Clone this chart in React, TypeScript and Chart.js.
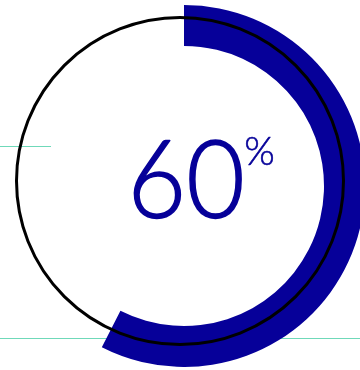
import React, { useEffect, useRef } from "react";
import { Chart, registerables } from "chart.js";

Chart.register(...registerables);

// ---- data ----
const segmentLabels = ["Completed", "Remaining"];
const segmentValues = [60, 40];
const centerValueText = "60";
const unitText = "%";

// ---- styles ----
const BLUE = "#060099";
const TEAL = "#6fd9b9";

function fitText(
  ctx: CanvasRenderingContext2D,
  text: string,
  font: string,
  left: number,
  top: number,
  right: number,
  bottom: number,
  extra: number
) {
  ctx.save();
  ctx.font = font;
  ctx.textAlign = "left";
  ctx.textBaseline = "alphabetic";
  const m = ctx.measureText(text);
  const w = m.actualBoundingBoxLeft + m.actualBoundingBoxRight;
  const h = m.actualBoundingBoxAscent + m.actualBoundingBoxDescent;
  const l = left + extra / 2;
  const t = top + extra / 2;
  const sx = (right - left - extra) / w;
  const sy = (bottom - top - extra) / h;
  ctx.translate(l + m.actualBoundingBoxLeft * sx, t + m.actualBoundingBoxAscent * sy);
  ctx.scale(sx, sy);
  ctx.fillText(text, 0, 0);
  if (extra > 0) {
    ctx.lineWidth = extra;
    ctx.lineJoin = "round";
    ctx.strokeStyle = ctx.fillStyle as string;
    ctx.strokeText(text, 0, 0);
  }
  ctx.restore();
}

const decorPlugin = {
  id: "decor",
  afterDatasetsDraw(chart: any) {
    const ctx: CanvasRenderingContext2D = chart.ctx;
    const arc = chart.getDatasetMeta(0).data[0];
    const cx = arc.x;
    const cy = arc.y;
    ctx.save();
    ctx.beginPath();
    ctx.arc(cx - 4, cy - 5, 163.5, 0, Math.PI * 2);
    ctx.lineWidth = 3;
    ctx.strokeStyle = "#000000";
    ctx.stroke();
    ctx.fillStyle = BLUE;
    fitText(ctx, centerValueText, "300 112px Lato", cx - 51, cy - 47, cx + 58, cy + 34, 1.6);
    fitText(ctx, unitText, "300 40px Lato", cx + 62, cy - 49, cx + 90, cy - 21, 0.6);
    ctx.restore();
  },
};

export default function App() {
  const canvasRef = useRef<HTMLCanvasElement | null>(null);

  useEffect(() => {
    if (!canvasRef.current) return;
    const chart = new Chart(canvasRef.current, {
      type: "doughnut",
      data: {
        labels: segmentLabels,
        datasets: [
          {
            data: segmentValues,
            backgroundColor: [BLUE, "rgba(0,0,0,0)"],
            borderWidth: 0,
          },
        ],
      },
      options: {
        responsive: false,
        animation: false,
        cutout: "77.35%",
        rotation: 0,
        circumference: 345,
        layout: { padding: 0 },
        plugins: {
          legend: { display: false },
          tooltip: { enabled: false },
        },
      },
      plugins: [decorPlugin],
    });
    return () => chart.destroy();
  }, []);

  return (
    <div
      style={{
        position: "fixed",
        left: 0,
        top: 0,
        width: 360,
        height: 370,
        overflow: "hidden",
        background: "#ffffff",
      }}
    >
      <div style={{ position: "absolute", left: 0, top: 146, width: 51, height: 1, background: TEAL }} />
      <div style={{ position: "absolute", left: 0, top: 338, width: 360, height: 1, background: TEAL }} />
      <canvas
        ref={canvasRef}
        width={362}
        height={362}
        style={{ position: "absolute", left: 3, top: 5, width: 362, height: 362 }}
      />
    </div>
  );
}
